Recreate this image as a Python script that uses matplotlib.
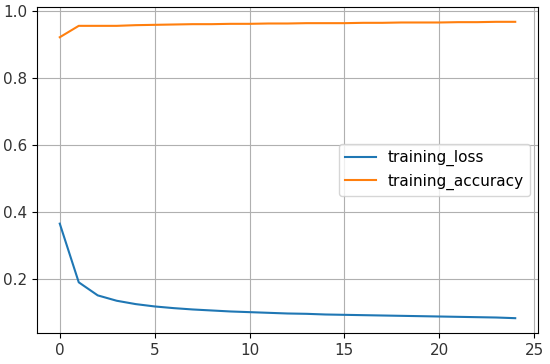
import matplotlib
matplotlib.use("Agg")
import matplotlib.pyplot as plt

epochs = list(range(25))
training_loss = [0.365, 0.190, 0.151, 0.135, 0.125, 0.118, 0.113, 0.109, 0.106, 0.103,
                 0.101, 0.099, 0.097, 0.096, 0.094, 0.093, 0.092, 0.091, 0.090, 0.089,
                 0.088, 0.087, 0.086, 0.085, 0.083]
training_accuracy = [0.921, 0.955, 0.955, 0.955, 0.957, 0.958, 0.959, 0.960, 0.960, 0.961,
                     0.961, 0.962, 0.962, 0.963, 0.963, 0.963, 0.964, 0.964, 0.965, 0.965,
                     0.965, 0.966, 0.966, 0.967, 0.967]

plt.rcParams["font.size"] = 11
fig = plt.figure(figsize=(5.5, 3.64), dpi=100)
ax = fig.add_axes([37/550, 1-333/364, (538-37)/550, (333-7)/364])
ax.plot(epochs, training_loss, label="training_loss")
ax.plot(epochs, training_accuracy, label="training_accuracy")
ax.grid(True)
ax.tick_params(labelsize=11, labelcolor="#333333")
ax.legend(loc="center right")
fig.savefig("out.png", dpi=100)
